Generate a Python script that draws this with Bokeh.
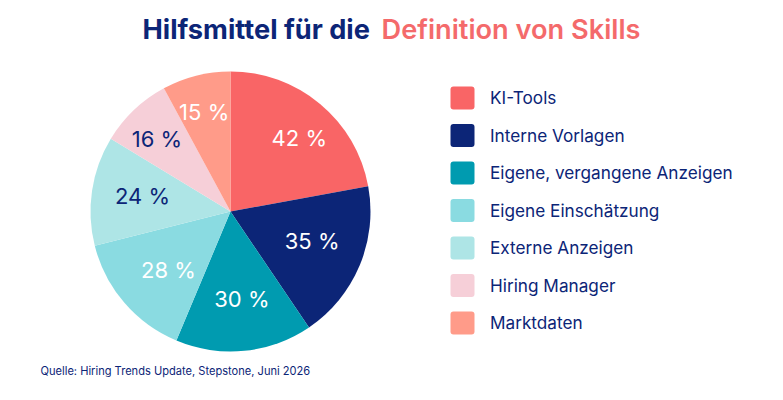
import math
from bokeh.embed import file_html
from bokeh.models import ColumnDataSource, Range1d
from bokeh.plotting import figure
from bokeh.resources import INLINE

categories = ["KI-Tools", "Interne Vorlagen", "Eigene, vergangene Anzeigen",
              "Eigene Einschätzung", "Externe Anzeigen", "Hiring Manager", "Marktdaten"]
values = [42, 35, 30, 28, 24, 16, 15]
colors = ["#F96566", "#0C2577", "#009BB0", "#8ADBE1", "#AEE5E6", "#F6CFD8", "#FF9B89"]
label_colors = ["#FFFFFF", "#FFFFFF", "#FFFFFF", "#FFFFFF", "#0C2577", "#0C2577", "#FFFFFF"]
title_dark = "Hilfsmittel für die"
title_accent = "Definition von Skills"
source_note = "Quelle: Hiring Trends Update, Stepstone, Juni 2026"

FONT = "Inter"
NAVY = "#0C2577"
W, H = 783, 400
CX, CY, R = 230, H - 211, 140
# small nudges (window px) of each label from its radial anchor
NUDGE = [(8, -1), (-6, -7), (2, -7), (10, -3), (6, -1), (-8, -4), (-3, -7)]
LABEL_R = 95


def wy(y):
    return H - y


p = figure(width=767, height=384, output_backend="svg", toolbar_location=None,
           x_range=Range1d(0, 767), y_range=Range1d(H - 384, H),
           min_border=0, outline_line_color=None, background_fill_color="#FFFFFF",
           border_fill_color="#FFFFFF")
p.axis.visible = False
p.grid.visible = False

total = sum(values)
start, end, lx, ly = [], [], [], []
acc = 0
for v, (nx, ny) in zip(values, NUDGE):
    a0 = math.pi / 2 - acc / total * 2 * math.pi
    acc += v
    a1 = math.pi / 2 - acc / total * 2 * math.pi
    start.append(a1)
    end.append(a0)
    m = (a0 + a1) / 2
    lx.append(CX + LABEL_R * math.cos(m) + nx)
    ly.append(CY + LABEL_R * math.sin(m) - ny)

src = ColumnDataSource(dict(start=start, end=end, color=colors, cat=categories, val=values,
                            lx=lx, ly=ly, lc=label_colors,
                            label=[f"{v} %" for v in values]))
p.wedge(x=CX, y=CY, radius=R, start_angle="start", end_angle="end", direction="anticlock",
        fill_color="color", line_color=None, source=src)
p.text(x="lx", y="ly", text="label", text_color="lc", text_font={"value": FONT},
       text_font_size="22px", text_align="center", text_baseline="middle", source=src)

# legend
ly0, step = 97.5, 37.5
leg = ColumnDataSource(dict(
    x=[462] * len(categories),
    tx=[489.5] * len(categories),
    y=[wy(ly0 + i * step) for i in range(len(categories))],
    ty=[wy(ly0 - 0.2 + i * step) for i in range(len(categories))],
    color=colors, cat=categories))
p.rect(x="x", y="y", width=24, height=23, fill_color="color", line_color=None,
       border_radius=3, source=leg)
p.text(x="tx", y="ty", text="cat", text_color=NAVY, text_font={"value": FONT},
       text_font_size="17.2px", text_align="left", text_baseline="middle", source=leg)

# title
p.text(x=[142], y=[wy(29)], text=[title_dark], text_color=NAVY, text_font={"value": FONT},
       text_font_size="27.2px", text_font_style="bold", text_align="left", text_baseline="middle")
p.text(x=[640], y=[wy(29)], text=[title_accent], text_color="#F46A6B",
       text_font={"value": "Inter SemiBold"},
       text_font_size="27.2px", text_align="right", text_baseline="middle")

p.text(x=[40], y=[wy(370)], text=[source_note], text_color=NAVY, text_font={"value": FONT},
       text_font_size="11.1px", text_align="left", text_baseline="middle")

open("out.html", "w").write(file_html(p, INLINE))
